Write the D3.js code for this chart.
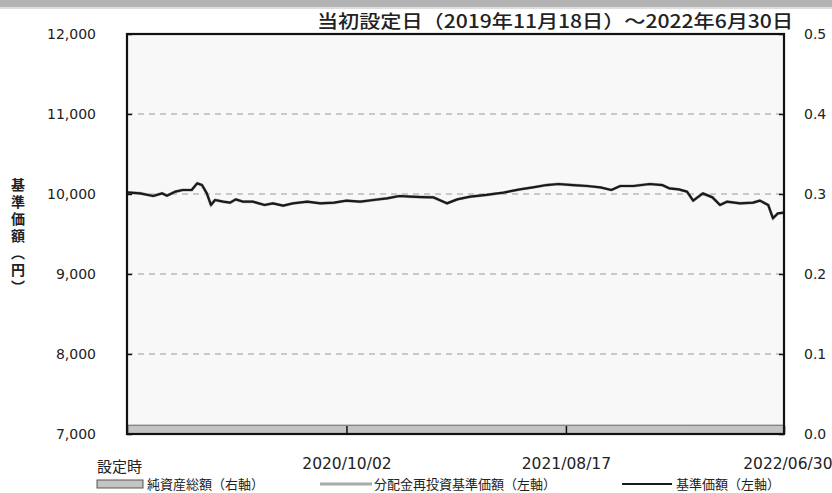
<!DOCTYPE html>
<html>
<head>
<meta charset="utf-8">
<script src="https://cdn.jsdelivr.net/npm/d3@7"></script>
<style>
  body { margin: 0; background: #fff; }
  svg { display: block; }
  text { font-family: "DejaVu Sans", sans-serif; fill: #222; }
  .jp { font-family: "Noto Sans CJK JP", sans-serif; }
</style>
</head>
<body>
<svg id="chart"></svg>
<script>
// 基準価額 (円)
const navDates = [
  "2019-11-18","2019-12-07","2019-12-26","2020-01-08","2020-01-15","2020-01-27",
  "2020-02-07","2020-02-20","2020-02-28","2020-03-06","2020-03-13","2020-03-19",
  "2020-03-25","2020-04-06","2020-04-16","2020-04-24","2020-05-05","2020-05-19",
  "2020-06-05","2020-06-17","2020-07-02","2020-07-16","2020-08-06","2020-08-25",
  "2020-09-14","2020-10-02","2020-10-22","2020-11-10","2020-11-30","2020-12-18",
  "2021-01-04","2021-01-19","2021-02-05","2021-02-25","2021-03-12","2021-03-31",
  "2021-04-23","2021-05-18","2021-06-11","2021-06-30","2021-07-20","2021-08-06",
  "2021-08-27","2021-09-17","2021-10-06","2021-10-22","2021-11-04","2021-11-23",
  "2021-12-17","2022-01-04","2022-01-14","2022-01-28","2022-02-09","2022-02-18",
  "2022-03-04","2022-03-18","2022-03-29","2022-04-08","2022-04-27","2022-05-16",
  "2022-05-26","2022-06-07","2022-06-14","2022-06-21","2022-06-30"
];
const navValues = [
  10020,10008,9975,10008,9979,10029,
  10050,10050,10133,10112,10008,9863,
  9925,9904,9892,9933,9904,9904,
  9863,9883,9854,9883,9904,9883,
  9892,9917,9904,9925,9946,9975,
  9967,9962,9958,9883,9933,9967,
  9988,10017,10058,10083,10112,10125,
  10112,10100,10083,10050,10100,10100,
  10125,10112,10071,10058,10029,9917,
  10008,9958,9863,9904,9883,9892,
  9917,9863,9696,9758,9767
];
// 分配金再投資基準価額 (no distributions, same as 基準価額)
const reinvestValues = navValues.slice();

// 純資産総額 (右軸)
const assetDates = ["2019-11-18","2020-06-01","2021-01-04","2021-08-17","2022-02-01","2022-06-30"];
const assetValues = [0.011, 0.011, 0.011, 0.011, 0.011, 0.011];

const leftTicks = [7000, 8000, 9000, 10000, 11000, 12000];
const rightTicks = [0, 0.1, 0.2, 0.3, 0.4, 0.5];
const xTickDates = ["2019-11-18", "2020-10-02", "2021-08-17", "2022-06-30"];
const xTickLabels = ["", "2020/10/02", "2021/08/17", "2022/06/30"];

const title = "当初設定日（2019年11月18日）～2022年6月30日";
const yTitle = "基準価額（円）";
const legendLabels = ["純資産総額（右軸）", "分配金再投資基準価額（左軸）", "基準価額（左軸）"];

const width = 832, height = 493;
const margin = { top: 34, right: 48, bottom: 59, left: 127 };
const innerW = width - margin.left - margin.right;
const innerH = height - margin.top - margin.bottom;

const parse = d3.timeParse("%Y-%m-%d");

const svg = d3.select("#chart").attr("width", width).attr("height", height);

// top band
svg.append("rect").attr("x", 0).attr("y", 0).attr("width", width).attr("height", 7).attr("fill", "#b3b3b3");
svg.append("rect").attr("x", 0).attr("y", 7).attr("width", width).attr("height", 2).attr("fill", "#dedede");

const x = d3.scaleTime()
  .domain([parse(xTickDates[0]), parse(xTickDates[3])])
  .range([0, innerW]);
const y = d3.scaleLinear().domain([7000, 12000]).range([innerH, 0]);
const y2 = d3.scaleLinear().domain([0, 0.5]).range([innerH, 0]);

const chart = svg.append("g").attr("transform", `translate(${margin.left},${margin.top})`);

chart.append("rect").attr("width", innerW).attr("height", innerH).attr("fill", "#f8f8f8");

// grid
chart.selectAll(".grid")
  .data(leftTicks.filter(d => d > 7000 && d < 12000))
  .join("line")
  .attr("class", "grid")
  .attr("x1", 0).attr("x2", innerW)
  .attr("y1", d => y(d)).attr("y2", d => y(d))
  .attr("stroke", "#999").attr("stroke-width", 1.2)
  .attr("stroke-dasharray", "6,5");

// net assets area
const assets = assetDates.map((d, i) => ({ time: parse(d), data: assetValues[i] }));
chart.append("path")
  .datum(assets)
  .attr("d", d3.area().x(d => x(d.time)).y0(innerH).y1(d => y2(d.data)))
  .attr("fill", "#c4c4c4")
  .attr("stroke", "#666").attr("stroke-width", 1);

// lines
const nav = navDates.map((d, i) => ({ time: parse(d), data: navValues[i] }));
const reinvest = navDates.map((d, i) => ({ time: parse(d), data: reinvestValues[i] }));
const line = d3.line().x(d => x(d.time)).y(d => y(d.data));

chart.append("path").datum(reinvest).attr("d", line)
  .attr("fill", "none").attr("stroke", "#aaa").attr("stroke-width", 3);
chart.append("path").datum(nav).attr("d", line)
  .attr("fill", "none").attr("stroke", "#1a1a1a").attr("stroke-width", 2.2)
  .attr("stroke-linejoin", "round");

// axes
const yAxis = d3.axisLeft(y).tickValues(leftTicks).tickFormat(d3.format(",")).tickSize(-5).tickPadding(31);
const gy = chart.append("g").call(yAxis);
const yAxisR = d3.axisRight(y2).tickValues(rightTicks).tickFormat(d3.format(".1f")).tickSize(-5).tickPadding(20);
const gy2 = chart.append("g").attr("transform", `translate(${innerW},0)`).call(yAxisR);
const xAxis = d3.axisBottom(x).tickValues(xTickDates.map(parse)).tickFormat((d, i) => xTickLabels[i]).tickSize(-8).tickPadding(24);
const gx = chart.append("g").attr("transform", `translate(0,${innerH})`).call(xAxis);

[gy, gy2, gx].forEach(g => {
  g.select(".domain").remove();
  g.selectAll(".tick line").attr("stroke", "#111").attr("stroke-width", 1.5);
  g.selectAll(".tick text").attr("font-size", 14).attr("fill", "#222").attr("font-family", "DejaVu Sans");
});
gx.selectAll(".tick text").attr("font-size", 15.5);
gx.selectAll(".tick:last-of-type text").attr("text-anchor", "end").attr("dx", 48);

// frame
chart.append("rect").attr("width", innerW).attr("height", innerH)
  .attr("fill", "none").attr("stroke", "#111").attr("stroke-width", 2.2);

// 設定時
svg.append("text").attr("class", "jp").attr("x", 97).attr("y", 472)
  .attr("font-size", 15).text("設定時");

// title
svg.append("text").attr("class", "jp").attr("x", 317).attr("y", 28)
  .attr("font-size", 18).attr("font-weight", 500)
  .attr("textLength", 476).attr("lengthAdjust", "spacingAndGlyphs")
  .text(title);

// y title (vertical)
svg.append("text").attr("class", "jp")
  .attr("x", 18).attr("y", 178)
  .attr("font-size", 14).attr("font-weight", 700)
  .style("writing-mode", "vertical-rl")
  .style("text-orientation", "upright")
  .attr("letter-spacing", 3)
  .attr("fill", "#333")
  .text(yTitle);

// legend
const ly = 484;
const legend = svg.append("g");
legend.append("rect").attr("x", 97).attr("y", ly - 4).attr("width", 46).attr("height", 8)
  .attr("fill", "#c4c4c4").attr("stroke", "#555").attr("stroke-width", 1);
legend.append("text").attr("class", "jp").attr("x", 147).attr("y", ly + 5)
  .attr("font-size", 13).attr("fill", "#333").text(legendLabels[0]);
legend.append("line").attr("x1", 320).attr("x2", 372).attr("y1", ly).attr("y2", ly)
  .attr("stroke", "#aaa").attr("stroke-width", 3);
legend.append("text").attr("class", "jp").attr("x", 374).attr("y", ly + 5)
  .attr("font-size", 13).attr("fill", "#333").text(legendLabels[1]);
legend.append("line").attr("x1", 622).attr("x2", 672).attr("y1", ly).attr("y2", ly)
  .attr("stroke", "#1a1a1a").attr("stroke-width", 2.2);
legend.append("text").attr("class", "jp").attr("x", 676).attr("y", ly + 5)
  .attr("font-size", 13).attr("fill", "#333").text(legendLabels[2]);
</script>
</body>
</html>
